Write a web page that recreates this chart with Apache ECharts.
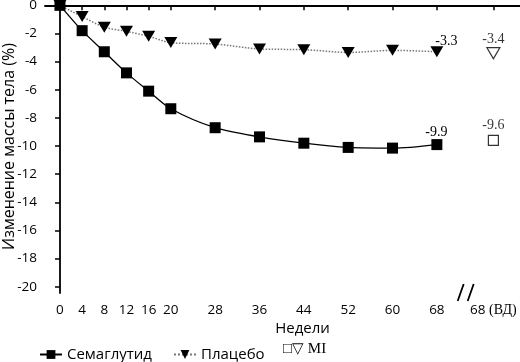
<!DOCTYPE html>
<html><head><meta charset="utf-8">
<script src="https://cdn.jsdelivr.net/npm/echarts@6/dist/echarts.min.js"></script>
<style>html,body{margin:0;padding:0;background:#fff}#c{width:520px;height:362px}</style>
</head><body><div id="c"></div>
<script>
var weeks = [0, 4, 8, 12, 16, 20, 28, 36, 44, 52, 60, 68];
var semaglutide = [0, -1.8, -3.3, -4.8, -6.1, -7.35, -8.7, -9.35, -9.8, -10.1, -10.15, -9.9];
var placebo = [0, -0.8, -1.55, -1.85, -2.2, -2.65, -2.75, -3.1, -3.15, -3.35, -3.2, -3.3];
var miWeek = 78.2;             // position of the "68 (ВД)" tick
var miSemaglutide = -9.6;
var miPlacebo = -3.4;
var xTickValues = [0, 4, 8, 12, 16, 20, 28, 36, 44, 52, 60, 68, 78.2];
var xTickLabels = ['0','4','8','12','16','20','28','36','44','52','60','68','68'];
var yTickValues = [0, -2, -4, -6, -8, -10, -12, -14, -16, -18, -20];
var breakAt = 73.2;

var SANS = '"Open Sans", sans-serif';
var SERIF = '"Liberation Serif", serif';

function pairs(xs, ys){ return xs.map(function(x,i){ return [x, ys[i]]; }); }

var chart = echarts.init(document.getElementById('c'), null, {renderer:'canvas'});
var option = {
  animation: false,
  grid: {left: 45, right: 0, top: 0, bottom: 69, containLabel: false, outerBoundsMode: 'none'},
  xAxis: {
    type: 'value', min: -2.7, max: 83,
    splitLine: {show: false},
    axisLine: {lineStyle: {color: '#000', width: 1.8}},
    axisTick: {show: true, customValues: xTickValues, length: 5, lineStyle: {color: '#000', width: 1.5}},
    axisLabel: {
      customValues: xTickValues, color: '#000', fontFamily: SANS, fontSize: 13.5, margin: 10,
      formatter: function(v){
        var i = xTickValues.indexOf(v);
        if (i < 0) return '';
        if (i === xTickValues.length - 1) return xTickLabels[i] + ' {s|(ВД)}';
        return xTickLabels[i];
      },
      rich: {s: {fontFamily: SERIF, fontSize: 14, color: '#000'}}
    },
    name: 'Недели', nameLocation: 'middle', nameGap: 28, nameMoveOverlap: false,
    nameTextStyle: {color: '#000', fontFamily: SANS, fontSize: 15, padding: [0, 0, 0, 40]}
  },
  yAxis: {
    type: 'value', min: -20.45, max: 0.38,
    splitLine: {show: false},
    axisLine: {show: true, lineStyle: {color: '#000', width: 1.8}},
    axisTick: {show: true, customValues: yTickValues, length: 5, lineStyle: {color: '#000', width: 1.5}},
    axisLabel: {customValues: yTickValues, color: '#000', fontFamily: SANS, fontSize: 13.5, margin: 8},
    name: 'Изменение массы тела (%)', nameLocation: 'middle', nameGap: 28, nameMoveOverlap: false,
    nameTextStyle: {color: '#000', fontFamily: SANS, fontSize: 16}
  },
  legend: {
    left: 34, top: 342, itemGap: 21, itemWidth: 22, itemHeight: 11,
    textStyle: {color: '#000', fontFamily: SANS, fontSize: 15},
    data: ['Семаглутид', 'Плацебо']
  },
  series: [
    {
      name: 'Плацебо', type: 'line', data: pairs(weeks, placebo), smooth: 0.3,
      symbol: 'triangle', symbolRotate: 180, symbolSize: [13, 11],
      lineStyle: {color: '#777', width: 1.5, type: 'dotted'},
      itemStyle: {color: '#000'},
      label: {show: true, position: [5, -12], fontFamily: SERIF, fontSize: 14, color: '#000',
        formatter: function(p){ return p.dataIndex === weeks.length - 1 ? p.value[1].toFixed(1) : ''; }},
      z: 3,
      markLine: {silent: true, symbol: ['none','none'], label: {show: false},
        lineStyle: {color: '#000', type: [8, 5], width: 1.2}, data: [{yAxis: 0}]}
    },
    {
      name: 'Семаглутид', type: 'line', data: pairs(weeks, semaglutide), smooth: 0.3,
      symbol: 'rect', symbolSize: 11,
      lineStyle: {color: '#000', width: 1.3},
      itemStyle: {color: '#000'},
      label: {show: true, position: [-6, -14], fontFamily: SERIF, fontSize: 14, color: '#000',
        formatter: function(p){ return p.dataIndex === weeks.length - 1 ? p.value[1].toFixed(1) : ''; }},
      z: 4
    },
    {
      name: 'MI', type: 'scatter', data: [[miWeek, miSemaglutide]],
      symbol: 'rect', symbolSize: 10,
      itemStyle: {color: '#fff', borderColor: '#000', borderWidth: 1.2},
      label: {show: true, position: 'top', distance: 2, fontFamily: SERIF, fontSize: 14, color: '#000',
        formatter: function(p){ return p.value[1].toFixed(1); }}
    },
    {
      name: 'MI2', type: 'scatter', data: [[miWeek, miPlacebo]],
      symbol: 'triangle', symbolRotate: 180, symbolSize: [13, 11],
      itemStyle: {color: '#fff', borderColor: '#000', borderWidth: 1.2},
      label: {show: true, position: 'top', distance: 1, fontFamily: SERIF, fontSize: 14, color: '#000',
        formatter: function(p){ return p.value[1].toFixed(1); }}
    }
  ]
};
chart.setOption(option);

var bp = chart.convertToPixel({gridIndex: 0}, [breakAt, -20.45]);
var bx = bp[0], by = bp[1];
chart.setOption({
  graphic: [
    {type: 'rect', shape: {x: bx - 5, y: by - 3, width: 10, height: 6}, style: {fill: '#fff'}, z: 100},
    {type: 'line', shape: {x1: bx - 8, y1: by + 8, x2: bx - 2, y2: by - 9}, style: {stroke: '#000', lineWidth: 1.8}, z: 101},
    {type: 'line', shape: {x1: bx + 2, y1: by + 8, x2: bx + 8, y2: by - 9}, style: {stroke: '#000', lineWidth: 1.8}, z: 101},
    {type: 'text', left: 283, top: 342, z: 101,
      style: {text: '□▽ MI', fontFamily: SERIF, fontSize: 15, fill: '#000'}}
  ]
});
</script>
</body></html>
